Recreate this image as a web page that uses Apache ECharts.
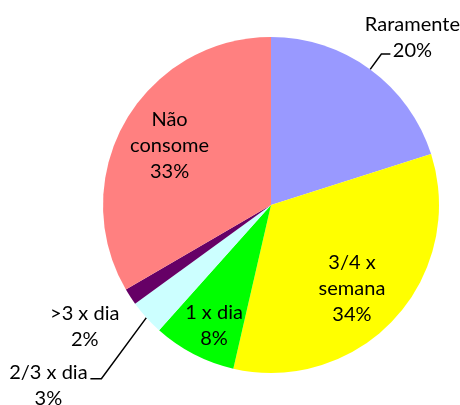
<!DOCTYPE html>
<html>
<head>
<meta charset="utf-8">
<script src="https://cdn.jsdelivr.net/npm/echarts@6/dist/echarts.min.js"></script>
<style>
  html, body { margin: 0; padding: 0; background: #fff; }
  #chart { width: 460px; height: 405px; }
</style>
</head>
<body>
<div id="chart"></div>
<script>
// categories, clockwise from 12 o'clock
var categories = ['Raramente', '3/4 x\nsemana', '1 x dia', '2/3 x dia', '>3 x dia', 'Não\nconsome'];
// shares (%)
var shares = [20.1, 33.5, 8.0, 3.4, 1.6, 33.4];
var colors = ['#9999FF', '#FFFF00', '#00FF00', '#CCFFFF', '#660066', '#FF8080'];
var outside = [true, false, false, true, true, false];

// px nudges from the spot echarts picks for the label
var nudge = { 1: [17, 25], 2: [-17, 43], 4: [19, 19], 5: [-26, -16] };

var chart = echarts.init(document.getElementById('chart'));

chart.setOption({
  animation: false,
  series: [{
    type: 'pie',
    center: [271, 205],
    radius: 168,
    startAngle: 90,
    avoidLabelOverlap: false,
    itemStyle: { borderWidth: 0 },
    label: {
      fontFamily: 'Lato',
      fontSize: 20,
      lineHeight: 26,
      color: '#000',
      formatter: function (p) {
        return p.name + '\n' + Math.round(p.percent) + '%';
      }
    },
    labelLine: {
      length: 19,
      length2: 9,
      lineStyle: { color: '#000', width: 1.5 }
    },
    data: categories.map(function (name, i) {
      return {
        name: name,
        value: shares[i],
        itemStyle: { color: colors[i] },
        label: { position: outside[i] ? 'outside' : 'inside' },
        labelLine: { show: i === 0 || i === 3 }
      };
    }),
    labelLayout: function (p) {
      var i = p.dataIndex, r = p.labelRect, pts = p.labelLinePoints;
      var out = { align: 'center', verticalAlign: 'middle' };
      if (i === 0) {
        var e = pts[2];
        out.x = e[0] + 22;
        out.y = e[1] - 17;
        out.labelLinePoints = pts;
      } else if (i === 3) {
        // excel-style elbow going down-left
        var a = pts[0], b = [a[0] - 45, a[1] + 61], c = [b[0] - 11, b[1]];
        out.x = c[0] - 42;
        out.y = c[1] + 7;
        out.labelLinePoints = [a, b, c];
      } else {
        var d = nudge[i];
        out.x = r.x + r.width / 2 + d[0];
        out.y = r.y + r.height / 2 + d[1];
      }
      return out;
    }
  }]
});
</script>
</body>
</html>
